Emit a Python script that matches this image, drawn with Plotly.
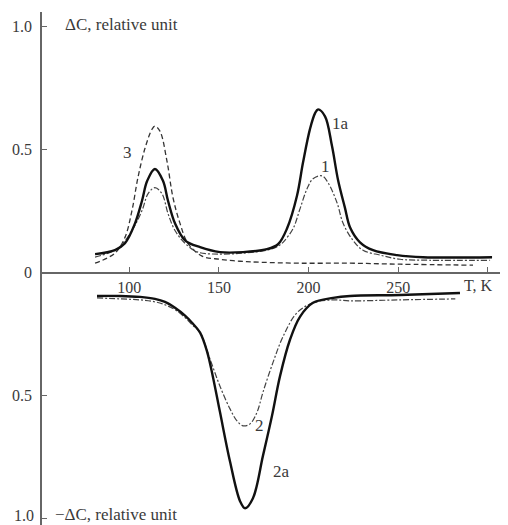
import plotly.graph_objects as go

# ---- data ----
# Curve 1a (solid): Delta C, two peaks
t_1a = [80.9, 92.0, 97.6, 103.2, 107.1, 110.0, 114.3, 118.8, 121.6, 125.5, 131.1, 139.5,
        150.6, 163.5, 176.8, 183.0, 188.0, 193.6, 196.9, 200.8, 203.6, 205.3, 209.2,
        213.1, 216.5, 220.3, 223.2, 228.7, 236.0, 249.4, 263.9, 302.4]
c_1a = [0.075, 0.091, 0.119, 0.200, 0.292, 0.373, 0.421, 0.373, 0.292, 0.200, 0.131, 0.103,
        0.083, 0.083, 0.095, 0.115, 0.179, 0.313, 0.446, 0.583, 0.647, 0.663, 0.635,
        0.514, 0.375, 0.264, 0.183, 0.123, 0.091, 0.071, 0.0625, 0.0625]

# Curve 1 (dash-dot)
t_1 = [80.9, 93.7, 101.5, 107.1, 110.5, 114.3, 118.2, 121.6, 125.5, 131.1, 138.3,
       150.6, 163.5, 176.8, 183.0, 185.8, 191.4, 195.3, 199.2, 202.5, 207.5, 210.9,
       215.9, 219.3, 224.8, 230.4, 239.9, 251.1, 267.8, 301.3]
c_1 = [0.0625, 0.099, 0.171, 0.252, 0.321, 0.345, 0.321, 0.240, 0.171, 0.119, 0.083,
       0.075, 0.079, 0.091, 0.107, 0.123, 0.179, 0.260, 0.341, 0.381, 0.393, 0.365,
       0.284, 0.200, 0.131, 0.091, 0.071, 0.054, 0.050, 0.050]

# Curve 3 (dashed)
t_3 = [80.9, 92.0, 97.6, 101.5, 104.8, 108.8, 112.7, 114.3, 117.1, 121.0, 124.4,
       128.3, 132.7, 140.6, 150.6, 161.8, 173.0, 195.3, 223.2, 251.1, 291.8]
c_3 = [0.038, 0.079, 0.143, 0.252, 0.385, 0.506, 0.583, 0.595, 0.575, 0.454, 0.304,
       0.200, 0.119, 0.067, 0.054, 0.046, 0.042, 0.038, 0.038, 0.034, 0.030]

# Curve 2a (solid): -Delta C
t_2a = [82.0, 94.8, 106.0, 114.3, 119.9, 125.5, 131.1, 135.0, 139.5, 143.4, 146.7,
        150.6, 156.2, 161.8, 164.6, 169.0, 174.6, 179.6, 184.1, 189.7, 195.3, 202.5,
        213.7, 223.2, 251.1, 284.5]
c_2a = [-0.095, -0.095, -0.099, -0.107, -0.119, -0.143, -0.175, -0.204, -0.244, -0.321,
        -0.425, -0.567, -0.768, -0.929, -0.958, -0.917, -0.744, -0.583, -0.421, -0.272,
        -0.179, -0.123, -0.103, -0.095, -0.091, -0.083]

# Curve 2 (dash-dot)
t_2 = [82.0, 94.8, 106.0, 114.3, 119.9, 125.5, 131.1, 135.0, 139.5, 145.1, 150.6,
       156.2, 160.1, 163.5, 167.4, 171.3, 174.6, 180.2, 185.8, 193.6, 202.5, 213.7,
       223.2, 251.1, 281.9]
c_2 = [-0.103, -0.107, -0.111, -0.119, -0.131, -0.151, -0.183, -0.212, -0.244, -0.353,
       -0.462, -0.554, -0.603, -0.623, -0.615, -0.567, -0.486, -0.365, -0.260, -0.163,
       -0.123, -0.111, -0.115, -0.111, -0.107]

x_ticks = [100, 150, 200, 250, 300]
x_tick_text = ["100", "150", "200", "250", ""]
y_ticks = [1.0, 0.5, 0.0, -0.5, -1.0]
y_tick_text = ["1.0", "0.5", "0", "0.5", ""]
bottom_tick_label = "1.0"

curve_labels = ["3", "1a", "1", "2", "2a"]
label_t = [98.8, 217.6, 209.2, 172.6, 184.9]
label_c = [0.486, 0.607, 0.433, -0.623, -0.808]

# ---- figure ----
FONT = "Liberation Serif, Times New Roman, serif"
TXT = "#3a3a3a"

fig = go.Figure()
fig.add_trace(go.Scatter(x=t_3, y=c_3, mode="lines", line=dict(color="#333", width=1.3, dash="5px,3px", shape="spline"), hoverinfo="skip"))
fig.add_trace(go.Scatter(x=t_1, y=c_1, mode="lines", line=dict(color="#444", width=1.2, dash="6px,2px,2px,2px", shape="spline"), hoverinfo="skip"))
fig.add_trace(go.Scatter(x=t_1a, y=c_1a, mode="lines", line=dict(color="#111", width=2.4, shape="spline"), hoverinfo="skip"))
fig.add_trace(go.Scatter(x=t_2, y=c_2, mode="lines", line=dict(color="#444", width=1.2, dash="6px,2px,2px,2px", shape="spline"), hoverinfo="skip"))
fig.add_trace(go.Scatter(x=t_2a, y=c_2a, mode="lines", line=dict(color="#111", width=2.4, shape="spline"), hoverinfo="skip"))

for txt, xt, yc in zip(curve_labels, label_t, label_c):
    fig.add_annotation(x=xt, y=yc, text=txt, showarrow=False,
                       font=dict(family=FONT, size=17, color=TXT))

fig.add_annotation(x=63.0, y=1.010, text="ΔC, relative unit", showarrow=False, xanchor="left",
                   font=dict(family=FONT, size=17, color=TXT))
fig.add_annotation(x=57.4, y=-0.985, text="−ΔC, relative unit", showarrow=False, xanchor="left",
                   font=dict(family=FONT, size=17, color=TXT))
fig.add_annotation(x=300, y=0, text="T, K", showarrow=False, yanchor="top", xshift=-9, yshift=-2,
                   font=dict(family=FONT, size=16, color=TXT))
# bottom tick label of the -ΔC scale, nudged up so it stays inside the page
fig.add_annotation(xref="paper", x=0, y=y_ticks[-1], text=bottom_tick_label, showarrow=False,
                   xanchor="right", xshift=-6, yshift=3,
                   font=dict(family=FONT, size=16, color=TXT))

ymin, ymax = -1.026, 1.059
# the page body adds an 8px margin, so the figure is 8px smaller than the window
fig.update_layout(
    width=500, height=517,
    margin=dict(l=34, r=0, t=4, b=0, autoexpand=False),
    paper_bgcolor="white", plot_bgcolor="white",
    showlegend=False,
    xaxis=dict(range=[51.3, 311.3], anchor="free", position=(0 - ymin) / (ymax - ymin),
               showline=True, linecolor="#666", linewidth=1.5,
               tickvals=x_ticks, ticktext=x_tick_text, ticks="inside", ticklen=5,
               tickcolor="#666", tickwidth=1, showgrid=False, zeroline=False,
               tickfont=dict(family=FONT, size=16, color=TXT), automargin=False),
    yaxis=dict(range=[ymin, ymax], showline=True, linecolor="#666", linewidth=1.5,
               tickvals=y_ticks, ticktext=y_tick_text, ticks="inside", ticklen=5,
               tickcolor="#666", tickwidth=1, showgrid=False, zeroline=False,
               ticklabelstandoff=5,
               tickfont=dict(family=FONT, size=16, color=TXT), automargin=False),
)

fig.write_html("out.html")
